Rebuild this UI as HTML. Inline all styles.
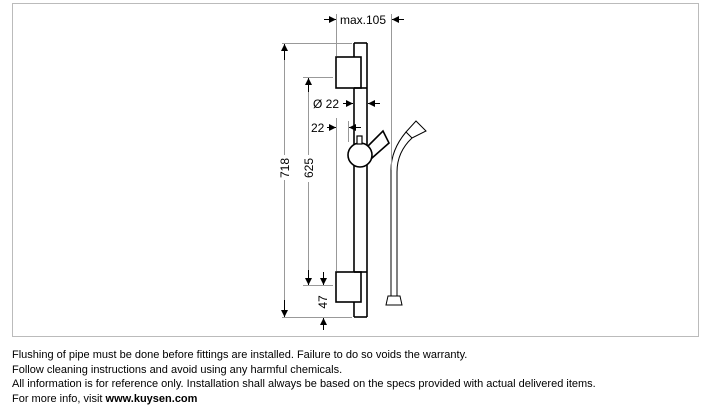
<!DOCTYPE html>
<html><head><meta charset="utf-8"><style>
body{margin:0;background:#fff;width:710px;height:412px;overflow:hidden;font-family:"Liberation Sans",Arial,sans-serif}
.t{position:absolute;left:12px;font-size:11px;color:#000;line-height:14.5px}
</style></head><body>
<svg width="710" height="412" style="position:absolute;left:0;top:0" font-family="Liberation Sans, sans-serif">
<defs>
<marker id="a" markerWidth="8" markerHeight="8" refX="7" refY="4" orient="auto" markerUnits="userSpaceOnUse"><path d="M0,0.5 L7,4 L0,7.5z" fill="#000"/></marker>
</defs>
<rect x="12.5" y="3.5" width="686" height="333" fill="none" stroke="#bbb"/>
<!-- pipe -->
<g stroke="#000" stroke-width="1.6" fill="none">
<line x1="354" y1="43" x2="354" y2="317"/>
<line x1="367" y1="43" x2="367" y2="317"/>
<line x1="354" y1="43" x2="367" y2="43"/>
<line x1="354" y1="317" x2="367" y2="317"/>
<rect x="336" y="57" width="25" height="31" fill="#fff"/>
<rect x="336" y="272" width="25" height="30" fill="#fff"/>
<line x1="354" y1="88" x2="367" y2="88"/>
<line x1="354" y1="272" x2="367" y2="272"/>
<polygon points="367,147 383,131 389,143 372,158" fill="#fff"/>
<circle cx="360" cy="155" r="12" fill="#fff"/>
<rect x="357" y="136" width="5" height="8" fill="#fff" stroke-width="1.2"/>
</g>
<!-- hose -->
<g stroke="#000" stroke-width="1" fill="none">
<path d="M391,296 L391,170 Q391,150 406,132"/>
<path d="M397,296 L397,172 Q397,152 412,138"/>
<polygon points="406,132 416,121 426,131 412,138" fill="#fff"/>
<polygon points="388,296 400,296 402,305 386,305" fill="#fff"/>
</g>
<!-- dimension lines -->
<g stroke="#999" stroke-width="1" fill="none">
<line x1="282" y1="43.5" x2="352" y2="43.5"/>
<line x1="303" y1="77.5" x2="333" y2="77.5"/>
<line x1="303" y1="285.5" x2="333" y2="285.5"/>
<line x1="282" y1="317.5" x2="352" y2="317.5"/>
<line x1="391.5" y1="14" x2="391.5" y2="170"/>
<line x1="336.5" y1="14" x2="336.5" y2="56"/>
<line x1="336.5" y1="118" x2="336.5" y2="271"/>
</g>
<g stroke="#000" stroke-width="1">
<line x1="284.5" y1="60" x2="284.5" y2="155" stroke="#999"/>
<line x1="284.5" y1="180" x2="284.5" y2="300" stroke="#999"/>
<line x1="308.5" y1="92" x2="308.5" y2="155" stroke="#999"/>
<line x1="308.5" y1="182" x2="308.5" y2="270" stroke="#999"/>
<line x1="284.5" y1="60" x2="284.5" y2="44" marker-end="url(#a)"/>
<line x1="284.5" y1="300" x2="284.5" y2="317" marker-end="url(#a)"/>
<line x1="308.5" y1="92" x2="308.5" y2="78" marker-end="url(#a)"/>
<line x1="308.5" y1="270" x2="308.5" y2="285" marker-end="url(#a)"/>
<line x1="323.5" y1="272" x2="323.5" y2="285" marker-end="url(#a)"/>
<line x1="323.5" y1="330" x2="323.5" y2="318" marker-end="url(#a)"/>
<line x1="324" y1="19.5" x2="336" y2="19.5" marker-end="url(#a)"/>
<line x1="404" y1="19.5" x2="392" y2="19.5" marker-end="url(#a)"/>
<line x1="343" y1="103.5" x2="353" y2="103.5" marker-end="url(#a)"/>
<line x1="380" y1="103.5" x2="368" y2="103.5" marker-end="url(#a)"/>
<line x1="327" y1="127.5" x2="336" y2="127.5" marker-end="url(#a)"/>
<line x1="361" y1="127.5" x2="349" y2="127.5" marker-end="url(#a)"/>
<line x1="348.5" y1="121" x2="348.5" y2="142" stroke="#999"/>
</g>
<g font-size="12" fill="#000">
<text x="340" y="24">max.105</text>
<text x="313" y="108">Ø 22</text>
<text x="311" y="132">22</text>
<text transform="translate(289,168) rotate(-90)" text-anchor="middle">718</text>
<text transform="translate(313,168) rotate(-90)" text-anchor="middle">625</text>
<text transform="translate(327,302) rotate(-90)" text-anchor="middle">47</text>
</g>
</svg>
<div class="t" style="top:348px">Flushing of pipe must be done before fittings are installed. Failure to do so voids the warranty.<br>Follow cleaning instructions and avoid using any harmful chemicals.<br>All information is for reference only. Installation shall always be based on the specs provided with actual delivered items.<br>For more info, visit <b>www.kuysen.com</b></div>
</body></html>
